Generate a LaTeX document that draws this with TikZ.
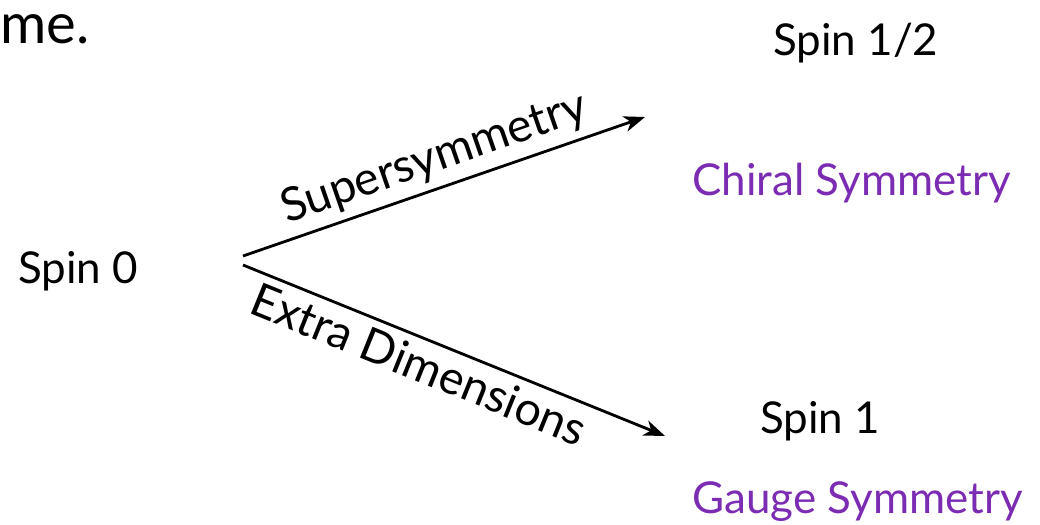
\documentclass[tikz,border=0pt]{standalone}
\usepackage{fontspec}
\usetikzlibrary{arrows.meta}
\setmainfont{Lato}
\definecolor{sympurple}{RGB}{123,44,178}
\begin{document}
\begin{tikzpicture}[
    x=0.02cm, y=-0.02cm,
    >={Stealth[length=12pt, width=9pt, inset=3.5pt]},
    every node/.style={font=\fontsize{25}{30}\selectfont, inner sep=0pt},
    spin/.style={anchor=base west},
    symmetry/.style={anchor=base west, text=sympurple},
    branch/.style={->, line width=1.6pt},
    branchlabel/.style={sloped, inner sep=4pt, font=\fontsize{26.5}{32}\selectfont}
]
    \useasboundingbox (0,0) rectangle (1040,524);

    % Leftover of the slide text
    \node[anchor=base west, font=\fontsize{32}{38}\selectfont] (tail) at (0,43) {me.};

    % Spins and the symmetries protecting them
    \node[spin] (spinzero) at (18,283) {Spin 0};
    \node[spin] (spinhalf) at (773,55) {Spin 1/2};
    \node[symmetry] (chiral) at (692,195) {Chiral Symmetry};
    \node[spin] (spinone) at (760,433) {Spin 1};
    \node[symmetry] (gauge) at (692,513) {Gauge Symmetry};

    % Branch points
    \coordinate (forkup) at (243,256);
    \coordinate (forkdown) at (243,265);
    \coordinate (susyend) at (645,117);
    \coordinate (xdimend) at (665,436);

    % Arrows
    \draw[branch] (forkup) -- node[branchlabel, above, pos=0.5] {Supersymmetry} (susyend);
    \draw[branch] (forkdown) -- node[branchlabel, below, pos=0.44] {Extra Dimensions} (xdimend);

\end{tikzpicture}
\end{document}
